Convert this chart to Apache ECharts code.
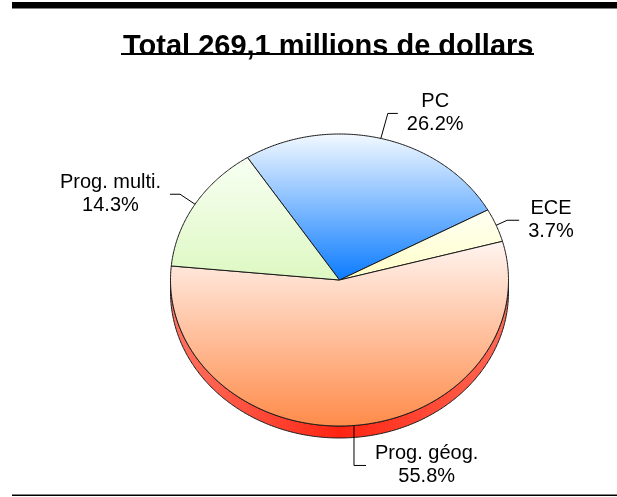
<!DOCTYPE html>
<html>
<head>
<meta charset="utf-8">
<script src="https://cdn.jsdelivr.net/npm/echarts@6/dist/echarts.min.js"></script>
<style>
html,body{margin:0;padding:0;background:#fff;}
#chart{width:617px;height:497px;}
</style>
</head>
<body>
<div id="chart"></div>
<script>
// ---- data ----
const titleText = 'Total 269,1 millions de dollars';
const categories = ['PC', 'ECE', 'Prog. géog.', 'Prog. multi.'];
const values = [26.2, 3.7, 55.8, 14.3];

// ---- styles / layout (not data) ----
const topColors = [
  ['#f3f9ff', '#0a7bff'],
  ['#fffff4', '#ffffc6'],
  ['#fff5f1', '#ff8b4a'],
  ['#f8fff3', '#ddf8c2']
];
const labelLayout = [
  { dx: 7, dy: -25, h: 10 },
  { dx: 11, dy: -5, h: 12 },
  { dx: 0, dy: 40, h: 12 },
  { dx: -15, dy: -10, h: -10 }
];
const CX = 339.5, CY = 280, RX = 169, RY = 146, DEPTH = 12;
const START = -33 * Math.PI / 180; // clockwise from 12 o'clock
const FONT = '20px "Liberation Sans", Arial, sans-serif';
const LINE_H = 23;

const total = values.reduce((a, b) => a + b, 0);
const starts = [];
{
  let acc = START;
  values.forEach(v => { starts.push(acc); acc += v / total * Math.PI * 2; });
}
function pt(a, dy) {
  return [CX + RX * Math.sin(a), CY - RY * Math.cos(a) + (dy || 0)];
}
const mctx = document.createElement('canvas').getContext('2d');
mctx.font = FONT;
function textW(s) { return mctx.measureText(s).width; }

function renderItem(params, api) {
  const i = params.dataIndex;
  const v = api.value(0);
  const a0 = starts[i];
  const a1 = a0 + v / total * Math.PI * 2;
  const children = [];

  // side (front rim), visible between 90deg and 270deg
  const s0 = Math.max(a0, Math.PI / 2), s1 = Math.min(a1, Math.PI * 1.5);
  if (s1 > s0) {
    const pts = [];
    const n = Math.max(2, Math.ceil((s1 - s0) / 0.01));
    for (let k = 0; k <= n; k++) pts.push(pt(s0 + (s1 - s0) * k / n));
    for (let k = n; k >= 0; k--) pts.push(pt(s0 + (s1 - s0) * k / n, DEPTH));
    children.push({
      type: 'polygon',
      shape: { points: pts },
      style: {
        fill: new echarts.graphic.LinearGradient(0, 0, 1, 0, [
          { offset: 0, color: '#ff7563' },
          { offset: 0.5, color: '#ff2412' },
          { offset: 1, color: '#ff6a55' }
        ]),
        stroke: '#1a1a1a', lineWidth: 1
      }
    });
  }

  // top face
  const tp = [[CX, CY]];
  const n2 = Math.max(2, Math.ceil((a1 - a0) / 0.01));
  for (let k = 0; k <= n2; k++) tp.push(pt(a0 + (a1 - a0) * k / n2));
  children.push({
    type: 'polygon',
    shape: { points: tp },
    style: {
      fill: new echarts.graphic.LinearGradient(0, 0, 0, 1, [
        { offset: 0, color: topColors[i][0] },
        { offset: 1, color: topColors[i][1] }
      ]),
      stroke: '#1a1a1a', lineWidth: 1, lineJoin: 'round'
    }
  });

  // label with leader line
  const mid = (a0 + a1) / 2;
  const e = pt(mid);
  const L = labelLayout[i];
  const elbow = [e[0] + L.dx, e[1] + L.dy];
  const end = [elbow[0] + L.h, elbow[1]];
  children.push({
    type: 'polyline',
    shape: { points: [e, elbow, end] },
    style: { stroke: '#000', lineWidth: 1, fill: null }
  });
  const pctTxt = (v / total * 100).toFixed(1) + '%';
  const name = categories[i];
  const bw = Math.max(textW(name), textW(pctTxt));
  const gap = 9;
  const tx = L.h >= 0 ? end[0] + gap + bw / 2 : end[0] - gap - bw / 2;
  children.push({
    type: 'text',
    x: tx, y: elbow[1],
    style: {
      text: name + '\n' + pctTxt,
      font: FONT,
      fill: '#000',
      align: 'center',
      verticalAlign: 'middle',
      lineHeight: LINE_H
    }
  });
  return { type: 'group', children };
}

const chart = echarts.init(document.getElementById('chart'), null, { renderer: 'canvas' });
chart.setOption({
  backgroundColor: '#fff',
  animation: false,
  title: {
    text: titleText,
    left: 118, top: 27,
    textStyle: { fontSize: 29, fontWeight: 'bold', fontFamily: '"Liberation Sans", Arial, sans-serif', color: '#000', lineHeight: 29 }
  },
  graphic: [
    { type: 'rect', shape: { x: 12, y: 2, width: 605, height: 6.5 }, style: { fill: '#000' } },
    { type: 'rect', shape: { x: 121, y: 53, width: 413, height: 2 }, style: { fill: '#000' } },
    { type: 'rect', shape: { x: 12, y: 494.5, width: 605, height: 1.5 }, style: { fill: '#000' } }
  ],
  series: [{
    type: 'custom',
    coordinateSystem: 'none',
    renderItem: renderItem,
    data: values.map((v, i) => ({ name: categories[i], value: [v, i] }))
  }]
});
</script>
</body>
</html>
